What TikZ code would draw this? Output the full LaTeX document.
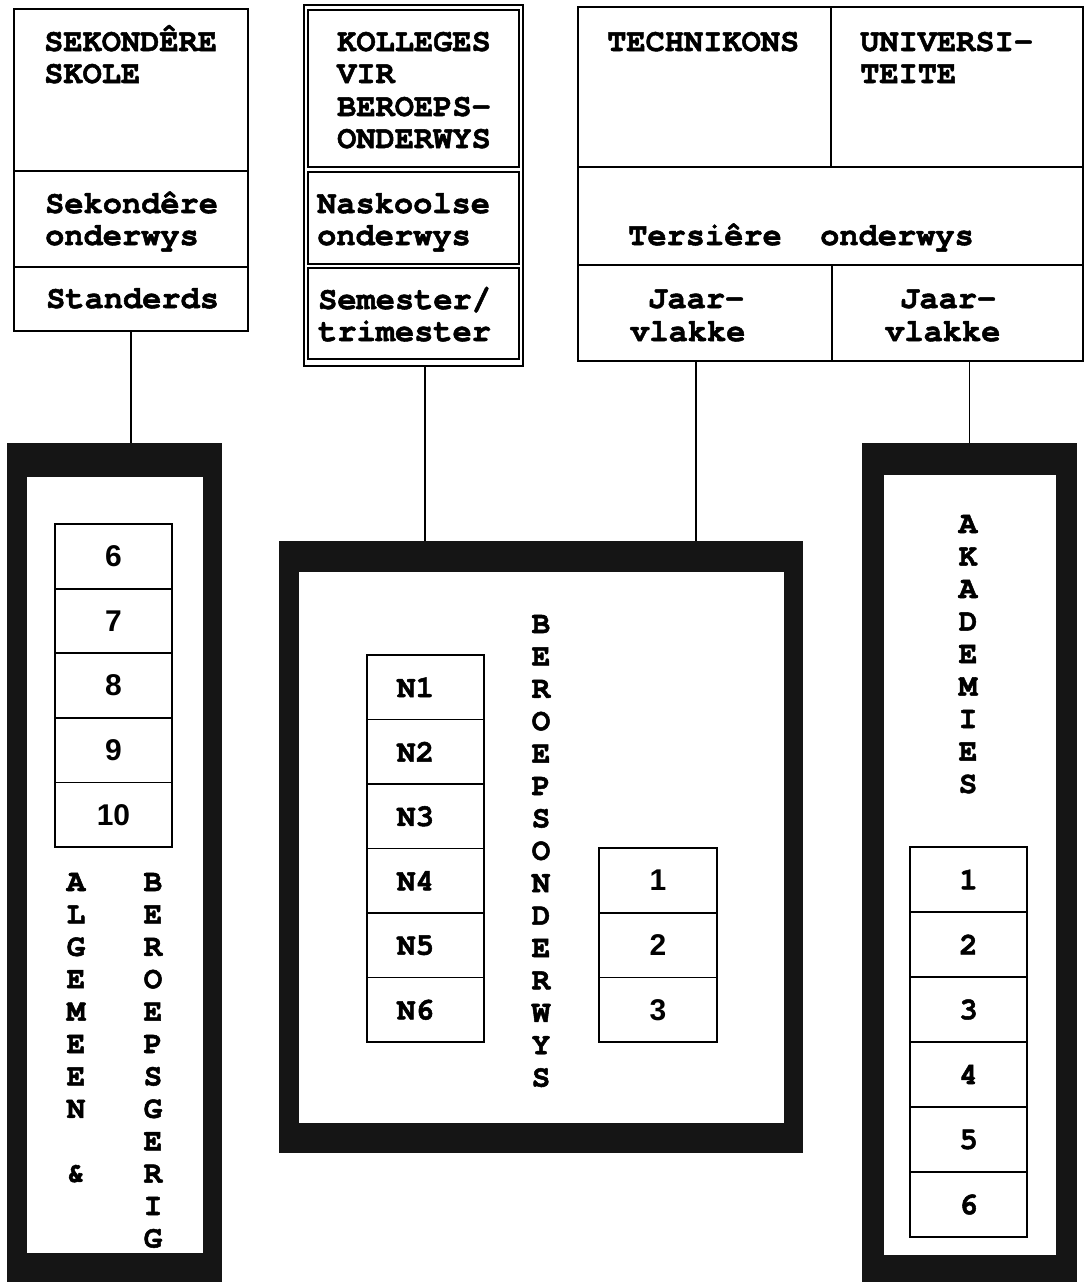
\documentclass[tikz,border=0pt]{standalone}
\usepackage{fontspec}
\newfontfamily\cour{texgyrecursor}[Extension=.otf, UprightFont=*-regular, BoldFont=*-bold, BoldFeatures={FakeBold=1.6}]
\newfontfamily\sansf{Liberation Sans}
\definecolor{framefill}{HTML}{151515}
\begin{document}
\begin{tikzpicture}[x=1pt,y=-1pt,
  cell/.style={draw, line width=1.8pt, inner sep=0pt, outer sep=0pt, anchor=north west},
  thin/.style={draw, line width=1.5pt, inner sep=0pt, outer sep=0pt, anchor=north west},
  frameout/.style={fill=framefill, draw=none, inner sep=0pt, outer sep=0pt, anchor=north west},
  framein/.style={fill=white, draw=none, inner sep=0pt, outer sep=0pt, anchor=north west},
  txt/.style={font=\cour\bfseries\fontsize{32}{33}\selectfont, inner sep=0pt, anchor=base west},
  vlet/.style={font=\cour\bfseries\fontsize{31}{32}\selectfont, inner sep=0pt, anchor=center},
  numc/.style={font=\cour\bfseries\fontsize{31}{32}\selectfont, inner sep=0pt, anchor=center},
  nums/.style={font=\sansf\bfseries\fontsize{30}{32}\selectfont, inner sep=0pt, anchor=center},
  conn/.style={line width=1.5pt}]
\useasboundingbox (0,0) rectangle (1085,1282);
\clip (0,0) rectangle (1085,1282);
\fill[white] (0,0) rectangle (1085,1282);

% ---------- top left: secondary schools
\node[cell, minimum width=234pt, minimum height=162pt] (sek1) at (14,9) {};
\node[cell, minimum width=234pt, minimum height=96pt] (sek2) at (14,171) {};
\node[cell, minimum width=234pt, minimum height=64pt] (sek3) at (14,267) {};
\node[txt] (t1) at (44,51) {SEKONDÊRE};
\node[txt] (t2) at (44,83) {SKOLE};
\node[txt] (t3) at (45,213) {Sekondêre};
\node[txt] (t4) at (45,245) {onderwys};
\node[txt] (t5) at (46,308) {Standerds};

% ---------- top middle: colleges (double border)
\node[thin, minimum width=219pt, minimum height=361pt] (kol) at (304,5) {};
\node[cell, minimum width=211pt, minimum height=157pt] (kol1) at (308,10) {};
\node[cell, minimum width=211pt, minimum height=92pt] (kol2) at (308,172) {};
\node[cell, minimum width=211pt, minimum height=91pt] (kol3) at (308,268) {};
\node[txt] (t6) at (337,51) {KOLLEGES};
\node[txt] (t7) at (337,83) {VIR};
\node[txt] (t8) at (337,116) {BEROEPS-};
\node[txt] (t9) at (337,148) {ONDERWYS};
\node[txt] (t10) at (317,213) {Naskoolse};
\node[txt] (t11) at (317,245) {onderwys};
\node[txt] (t12) at (318,309) {Semester/};
\node[txt] (t13) at (318,341) {trimester};

% ---------- top right: tertiary
\node[cell, minimum width=253pt, minimum height=160pt] (tech) at (578,7) {};
\node[cell, minimum width=252pt, minimum height=160pt] (uni) at (831,7) {};
\node[cell, minimum width=505pt, minimum height=98pt] (tert) at (578,167) {};
\node[cell, minimum width=254pt, minimum height=96pt] (jaar1) at (578,265) {};
\node[cell, minimum width=251pt, minimum height=96pt] (jaar2) at (832,265) {};
\node[txt] (t14) at (607,51) {TECHNIKONS};
\node[txt] (t15) at (860,51) {UNIVERSI-};
\node[txt] (t16) at (860,83) {TEITE};
\node[txt] (t17) at (628,245) {Tersiêre\ \ onderwys};
\node[txt] (t18) at (648,308) {Jaar-};
\node[txt] (t19) at (630,341) {vlakke};
\node[txt] (t20) at (900,308) {Jaar-};
\node[txt] (t21) at (885,341) {vlakke};

% ---------- thick frames
\node[frameout, minimum width=215pt, minimum height=900pt] (lframe) at (7,443) {};
\node[framein, minimum width=176pt, minimum height=776pt] (lframein) at (27,477) {};
\node[frameout, minimum width=524pt, minimum height=612pt] (mframe) at (279,541) {};
\node[framein, minimum width=485pt, minimum height=551pt] (mframein) at (299,572) {};
\node[frameout, minimum width=215pt, minimum height=900pt] (rframe) at (862,443) {};
\node[framein, minimum width=172pt, minimum height=780pt] (rframein) at (884,475) {};

% ---------- connectors
\draw[conn] (sek3.south) -- (sek3.south |- lframe.north);
\draw[conn] ([xshift=11.5pt]kol.south) -- ([xshift=11.5pt]kol.south |- mframe.north);
\draw[conn] ([xshift=-9pt]jaar1.south) -- ([xshift=-9pt]jaar1.south |- mframe.north);
\draw[conn] (rframe.north) -- (rframe.north |- jaar2.south);

% ---------- left column: standards 6-10
\foreach \n [count=\i from 0] in {6,7,8,9,10} {
  \node[cell, minimum width=117pt, minimum height=64.6pt] (s\n) at (55,524+\i*64.6) {};
  \node[nums] (sl\n) at (s\n.center) {\n};
}
\foreach \c [count=\i from 0] in {A,L,G,E,M,E,E,N} {
  \node[vlet] (alg\i) at (76,882+\i*32.4) {\c};
}
\node[vlet] (amp) at (76,882+9*32.4) {\&};
\foreach \c [count=\i from 0] in {B,E,R,O,E,P,S,G,E,R,I,G} {
  \node[vlet] (bg\i) at (153,882+\i*32.4) {\c};
}

% ---------- middle: N1-N6, 1-3
\foreach \n [count=\i from 0] in {1,...,6} {
  \node[cell, minimum width=117pt, minimum height=64.5pt] (n\n) at (367,655+\i*64.5) {};
  \node[numc] (nl\n) at ([xshift=-10pt]n\n.center) {N\n};
}
\foreach \n [count=\i from 0] in {1,2,3} {
  \node[cell, minimum width=118pt, minimum height=64.7pt] (m\n) at (599,848+\i*64.7) {};
  \node[nums] (ml\n) at (m\n.center) {\n};
}
\foreach \c [count=\i from 0] in {B,E,R,O,E,P,S,O,N,D,E,R,W,Y,S} {
  \node[vlet] (bo\i) at (541,624+\i*32.4) {\c};
}

% ---------- right: academies 1-6
\foreach \c [count=\i from 0] in {A,K,A,D,E,M,I,E,S} {
  \node[vlet] (ak\i) at (968,524+\i*32.5) {\c};
}
\foreach \n [count=\i from 0] in {1,...,6} {
  \node[cell, minimum width=117pt, minimum height=65pt] (r\n) at (910,847+\i*65) {};
  \node[numc] (rl\n) at (r\n.center) {\n};
}
\end{tikzpicture}
\end{document}
